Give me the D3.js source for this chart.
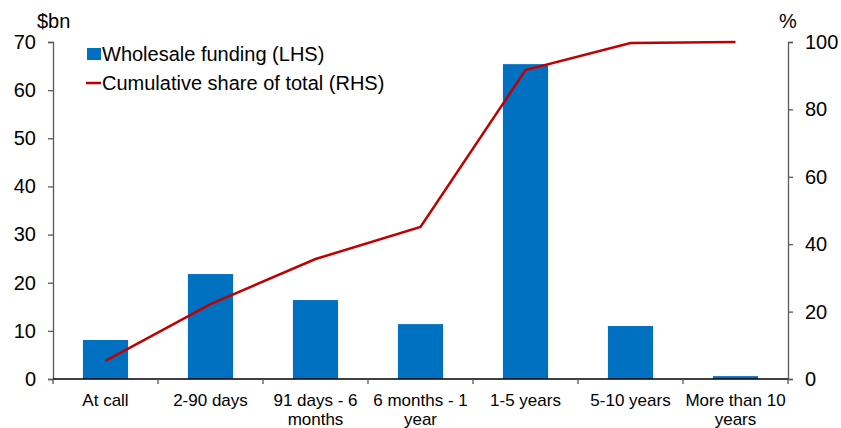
<!DOCTYPE html>
<html>
<head>
<meta charset="utf-8">
<script src="https://cdn.jsdelivr.net/npm/d3@7"></script>
<style>
  body { margin: 0; background: #fff; }
  text { font-family: "Liberation Sans", Arial, sans-serif; fill: #000; }
</style>
</head>
<body>
<svg width="841" height="428"></svg>
<script>
var categories = [["At call"], ["2-90 days"], ["91 days - 6", "months"], ["6 months - 1", "year"], ["1-5 years"], ["5-10 years"], ["More than 10", "years"]];
var funding = [8.1, 21.8, 16.4, 11.4, 65.4, 11.0, 0.6];
var cumShare = [5.4, 22.2, 35.6, 45.1, 91.7, 99.7, 100];
var leftTicks = [0, 10, 20, 30, 40, 50, 60, 70];
var rightTicks = [0, 20, 40, 60, 80, 100];

var svg = d3.select("svg"),
    plotLeft = 53, plotRight = 788, plotTop = 42, plotBottom = 379;

var x = d3.scaleBand()
    .domain(d3.range(categories.length))
    .range([plotLeft, plotRight])
    .paddingInner(0.57)
    .paddingOuter(0.285);

var yL = d3.scaleLinear().domain([0, 70]).range([plotBottom, plotTop]);
var yR = d3.scaleLinear().domain([0, 100]).range([plotBottom, plotTop]);

var axisColor = "#595959";

// bars
svg.append("g")
  .selectAll("rect")
  .data(funding)
  .enter().append("rect")
    .attr("x", function(d, i) { return x(i); })
    .attr("width", x.bandwidth())
    .attr("y", function(d) { return yL(d); })
    .attr("height", function(d) { return plotBottom - yL(d); })
    .style("fill", "#0070C0");

// left axis
var gl = svg.append("g")
    .attr("transform", "translate(" + plotLeft + ",0)")
    .call(d3.axisLeft(yL).tickValues(leftTicks).tickSize(5).tickPadding(12));

// right axis
var gr = svg.append("g")
    .attr("transform", "translate(" + plotRight + ",0)")
    .call(d3.axisRight(yR).tickValues(rightTicks).tickSize(5).tickPadding(12));

[gl, gr].forEach(function(g) {
  g.select(".domain").attr("stroke", axisColor).attr("stroke-width", 1.3);
  g.selectAll(".tick line").attr("stroke", axisColor).attr("stroke-width", 1.3);
  g.selectAll("text")
    .style("font-family", "'Liberation Sans', Arial, sans-serif")
    .style("font-size", "20px")
    .attr("fill", "#000");
});

// x axis baseline and ticks at category boundaries
var step = x.step();
svg.append("line")
    .attr("x1", plotLeft).attr("x2", plotRight)
    .attr("y1", plotBottom).attr("y2", plotBottom)
    .attr("stroke", "#000").attr("stroke-width", 1.3);
svg.append("g")
  .selectAll("line")
  .data(d3.range(categories.length + 1))
  .enter().append("line")
    .attr("x1", function(i) { return plotLeft + i * step; })
    .attr("x2", function(i) { return plotLeft + i * step; })
    .attr("y1", plotBottom).attr("y2", plotBottom + 5)
    .attr("stroke", axisColor).attr("stroke-width", 1.3);

// category labels
svg.append("g")
  .selectAll("text")
  .data(categories)
  .enter().append("text")
    .attr("text-anchor", "middle")
    .attr("x", function(d, i) { return x(i) + x.bandwidth() / 2; })
    .attr("y", 406)
    .style("font-size", "17px")
  .selectAll("tspan")
  .data(function(d) { return d; })
  .enter().append("tspan")
    .attr("x", function() { return this.parentNode.getAttribute("x"); })
    .attr("dy", function(d, j) { return j === 0 ? 0 : 19; })
    .text(function(d) { return d; });

// cumulative line
var line = d3.line()
    .x(function(d, i) { return x(i) + x.bandwidth() / 2; })
    .y(function(d) { return yR(d); });
svg.append("path")
    .datum(cumShare)
    .attr("d", line)
    .attr("fill", "none")
    .attr("stroke", "#C00000")
    .attr("stroke-width", 2.5);

// unit labels
svg.append("text").attr("x", 37).attr("y", 28).style("font-size", "20px").text("$bn");
svg.append("text").attr("x", 779).attr("y", 28).style("font-size", "20px").text("%");

// legend
svg.append("rect").attr("x", 87).attr("y", 48).attr("width", 14).attr("height", 12).style("fill", "#0070C0");
svg.append("text").attr("x", 102).attr("y", 61).style("font-size", "20px").text("Wholesale funding (LHS)");
svg.append("line").attr("x1", 86).attr("x2", 101).attr("y1", 83).attr("y2", 83)
    .attr("stroke", "#C00000").attr("stroke-width", 2.5);
svg.append("text").attr("x", 102).attr("y", 90).style("font-size", "20px").text("Cumulative share of total (RHS)");
</script>
</body>
</html>
